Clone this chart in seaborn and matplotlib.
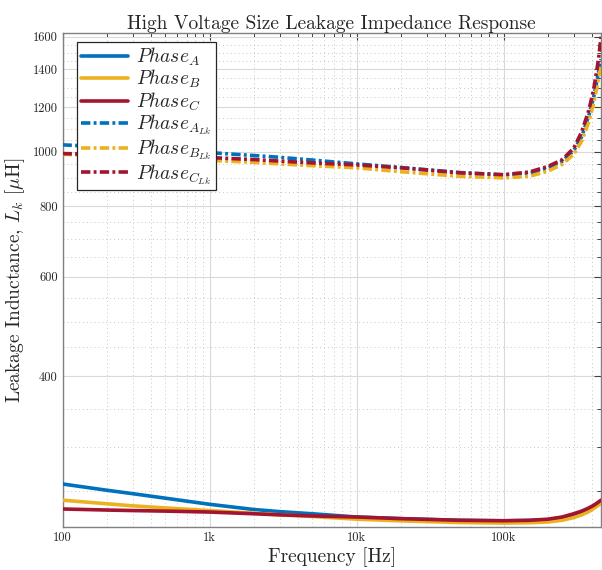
import numpy as np
import pandas as pd
import matplotlib
matplotlib.use("Agg")
import matplotlib.pyplot as plt
import seaborn as sns
from matplotlib.ticker import FixedLocator, NullFormatter

# ---- data ----
freq = [100, 200, 300, 500, 1e3, 2e3, 3e3, 5e3, 1e4, 2e4, 5e4, 1e5, 1.5e5,
        2e5, 2.5e5, 3e5, 3.4e5, 3.8e5, 4.1e5, 4.3e5, 4.45e5, 4.6e5]

phase_a = [257.5, 251, 247.5, 243, 237, 232, 230, 228, 225, 223.5, 222, 221.5,
           221.8, 222.5, 224, 226.5, 229, 232, 234.5, 236, 237.5, 239]
phase_b = [241, 237.5, 235.5, 233.5, 231, 228.5, 227, 225.5, 223, 221.5, 220,
           219.5, 219.8, 220.5, 222, 224.5, 227, 230, 233, 235, 236.5, 238]
phase_c = [232.5, 231.5, 231, 230.5, 229.6, 228, 227, 226, 225, 223.5, 222,
           221.6, 222, 223, 225, 228, 230.5, 233.5, 236, 238, 239.5, 241]

phase_a_lk = [1029, 1020, 1014, 1006, 997, 985, 978, 967, 952, 938, 919, 910,
              916, 936, 962, 1005, 1065, 1160, 1250, 1330, 1395, 1460]
phase_b_lk = [990, 984, 980, 974, 966, 958, 952, 945, 937, 922, 905, 899,
              905, 924, 950, 990, 1045, 1130, 1220, 1295, 1360, 1420]
phase_c_lk = [993, 989, 986, 982, 977, 969, 963, 956, 948, 937, 918, 911,
              921, 942, 968, 1015, 1085, 1185, 1290, 1390, 1480, 1600]

labels = [r'$Phase_A$', r'$Phase_B$', r'$Phase_C$',
          r'$Phase_{A_{Lk}}$', r'$Phase_{B_{Lk}}$', r'$Phase_{C_{Lk}}$']

x_ticks = [100, 1e3, 1e4, 1e5]
x_ticklabels = ['100', '1k', '10k', '100k']
y_ticks = [400, 600, 800, 1000, 1200, 1400, 1600]
y_ticklabels = ['400', '600', '800', '1000', '1200', '1400', '1600']

colors = ['#0072BD', '#EDB120', '#A2142F']

# ---- style ----
sns.set_style("white")
plt.rcParams['font.family'] = ['cmr10', 'DejaVu Serif']
plt.rcParams['mathtext.fontset'] = 'cm'
plt.rcParams['axes.unicode_minus'] = False
plt.rcParams['axes.formatter.use_mathtext'] = True

fig = plt.figure(figsize=(6.02, 5.70), dpi=100)
ax = fig.add_axes([62.5 / 602, 43 / 570, 538.5 / 602, 494 / 570])

series = [phase_a, phase_b, phase_c, phase_a_lk, phase_b_lk, phase_c_lk]
lw = 2.6
dashdot = (0, (2.6, 0.9, 0.8, 0.9))
for i, (vals, lab) in enumerate(zip(series, labels)):
    df = pd.DataFrame({'f': freq, 'L': vals})
    ls = '-' if i < 3 else dashdot
    sns.lineplot(data=df, x='f', y='L', ax=ax, color=colors[i % 3],
                 linewidth=lw, linestyle=ls, label=lab, zorder=3 + i)

ax.set_xscale('log')
ax.set_yscale('log')
ax.set_xlim(100, 4.6e5)
ax.set_ylim(216, 1625)

ax.xaxis.set_major_locator(FixedLocator(x_ticks))
ax.set_xticklabels(x_ticklabels)
ax.xaxis.set_minor_locator(FixedLocator(
    [m * 10 ** e for e in range(2, 6) for m in range(2, 10) if m * 10 ** e < 4.6e5]))
ax.xaxis.set_minor_formatter(NullFormatter())

ax.yaxis.set_major_locator(FixedLocator(y_ticks))
ax.set_yticklabels(y_ticklabels)
ax.yaxis.set_minor_locator(FixedLocator(
    [v for v in range(250, 1651, 50) if v not in y_ticks]))
ax.yaxis.set_minor_formatter(NullFormatter())

ax.grid(True, which='major', color='#d9d9d9', linewidth=0.8, linestyle='-')
ax.grid(True, which='minor', color='#c8c8c8', linewidth=0.7, linestyle=(0, (1, 3)))
ax.set_axisbelow(True)

ax.tick_params(which='both', direction='in', top=True, right=True,
               colors='#404040', labelcolor='#262626', labelsize=9)
ax.tick_params(which='major', length=5, width=0.8)
ax.tick_params(which='minor', length=3, width=0.7)
for sp in ax.spines.values():
    sp.set_color('#808080')
    sp.set_linewidth(1.0)

ax.set_xlabel('Frequency [Hz]', fontsize=14, color='#262626', labelpad=2)
ax.set_ylabel(r'Leakage Inductance, $L_k$ [$\mu$H]', fontsize=14,
              color='#262626', labelpad=4)
ax.set_title('High Voltage Size Leakage Impedance Response', fontsize=14,
             color='#262626', pad=3)

leg = ax.legend(loc='upper left', bbox_to_anchor=(0.027, 0.982),
                fontsize=14, handlelength=2.4,
                labelspacing=0.0, borderpad=0.2, handletextpad=0.45,
                borderaxespad=0.0, frameon=True, fancybox=False, framealpha=1)
leg.get_frame().set_edgecolor('#262626')
leg.get_frame().set_linewidth(0.9)
leg.set_zorder(20)

fig.savefig('out.png', dpi=100)
